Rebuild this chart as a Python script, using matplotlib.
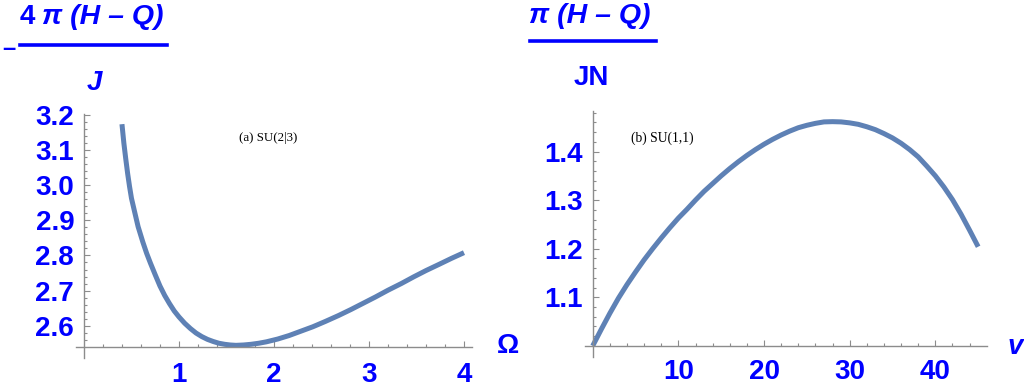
import numpy as np
import matplotlib
matplotlib.use('Agg')
import matplotlib.pyplot as plt
from matplotlib.lines import Line2D
from matplotlib.ticker import FixedLocator

# panel (a): SU(2|3), J vs Omega
omega = [0.40, 0.42, 0.44, 0.46, 0.48, 0.50, 0.53, 0.57, 0.62, 0.66, 0.70,
         0.75, 0.80, 0.85, 0.90, 0.95, 1.00, 1.06, 1.12, 1.18, 1.24, 1.30,
         1.36, 1.42, 1.48, 1.54, 1.60, 1.68, 1.76, 1.84, 1.92, 2.04, 2.16,
         2.28, 2.41, 2.54, 2.68, 2.81, 2.94, 3.07, 3.20, 3.34, 3.47, 3.60,
         3.74, 3.87, 4.00]
J_a = [3.174, 3.120, 3.075, 3.033, 2.996, 2.963, 2.928, 2.882, 2.838, 2.806,
       2.778, 2.745, 2.713, 2.686, 2.663, 2.642, 2.625, 2.607, 2.592, 2.579,
       2.569, 2.561, 2.555, 2.550, 2.547, 2.545, 2.544, 2.545, 2.547, 2.550,
       2.554, 2.562, 2.572, 2.584, 2.597, 2.612, 2.629, 2.646, 2.664, 2.682,
       2.701, 2.720, 2.739, 2.757, 2.775, 2.792, 2.808]

# panel (b): SU(1,1), JN vs v
v = [0, 1, 2, 3, 4, 5, 6, 7, 8, 9, 10, 11, 12, 13, 14, 15, 16, 17, 18, 19,
     20, 21, 22, 23, 24, 25, 26, 27, 28, 29, 30, 31, 32, 33, 34, 35, 36, 37,
     38, 39, 40, 41, 42, 43, 44, 45]
JN_b = [1.000, 1.034, 1.067, 1.098, 1.126, 1.152, 1.177, 1.200, 1.222, 1.243,
        1.263, 1.281, 1.300, 1.318, 1.334, 1.350, 1.365, 1.379, 1.392, 1.404,
        1.415, 1.425, 1.434, 1.442, 1.449, 1.454, 1.458, 1.461, 1.4615, 1.461,
        1.459, 1.456, 1.451, 1.445, 1.437, 1.428, 1.417, 1.404, 1.389, 1.370,
        1.350, 1.327, 1.301, 1.271, 1.238, 1.204]

a_xticks = [1, 2, 3, 4]
a_yticks = [2.6, 2.7, 2.8, 2.9, 3.0, 3.1, 3.2]
a_ylabels = ['2.6', '2.7', '2.8', '2.9', '3.0', '3.1', '3.2']
b_xticks = [10, 20, 30, 40]
b_yticks = [1.1, 1.2, 1.3, 1.4]

blue = '#0000ff'
line_c = '#5e81b5'
axis_c = '#8c8c8c'
font = 'Liberation Sans'
tick_fs = 20

fig = plt.figure(figsize=(10.24, 3.9), dpi=100)
ax1 = fig.add_axes([0.0742, 0.0821, 0.3867, 0.6256])
ax2 = fig.add_axes([0.5713, 0.0846, 0.3923, 0.6315])


def style(ax, x0, y0, xlim, ylim, xminor, yminor, xpad):
    ax.set_xlim(*xlim)
    ax.set_ylim(*ylim)
    ax.spines['top'].set_visible(False)
    ax.spines['right'].set_visible(False)
    ax.spines['left'].set_position(('data', x0))
    ax.spines['bottom'].set_position(('data', y0))
    for s in ('left', 'bottom'):
        ax.spines[s].set_color(axis_c)
        ax.spines[s].set_linewidth(1.0)
    ax.xaxis.set_minor_locator(FixedLocator(xminor))
    ax.yaxis.set_minor_locator(FixedLocator(yminor))
    ax.tick_params(which='both', direction='in', color=axis_c, width=0.8)
    ax.tick_params(which='major', length=4.5)
    ax.tick_params(which='minor', length=2.5)
    ax.tick_params(axis='x', which='major', pad=xpad)
    ax.tick_params(axis='y', which='major', pad=7)
    for lab in ax.get_xticklabels() + ax.get_yticklabels():
        lab.set_fontfamily(font)
        lab.set_fontweight('bold')
        lab.set_fontsize(tick_fs)
        lab.set_color(blue)
    ax.patch.set_visible(False)


ax1.plot(omega, J_a, color=line_c, lw=3.6, solid_capstyle='butt')
ax1.set_xticks(a_xticks)
ax1.set_yticks(a_yticks, a_ylabels)
style(ax1, 0, 2.54, (-0.084, 4.084), (2.508, 3.203),
      np.arange(0.2, 4.01, 0.2), np.arange(2.56, 3.201, 0.02), 11)

ax2.plot(v, JN_b, color=line_c, lw=3.6, solid_capstyle='butt')
ax2.set_xticks(b_xticks)
ax2.set_yticks(b_yticks)
style(ax2, 0, 1.0, (-0.9, 46.0), (0.977, 1.484),
      np.arange(2, 46, 2), np.arange(1.02, 1.481, 0.02), 9.5)

ax1.text(1.63, 3.135, '(a) SU(2|3)', family='Liberation Serif', fontsize=9.3,
         ha='left', va='center')
ax2.text(4.5, 1.428, '(b) SU(1,1)', family='Liberation Serif', fontsize=9.8,
         ha='left', va='center')

W, H = 1024.0, 390.0


def ftext(x, y, s, **kw):
    fig.text(x / W, 1 - y / H, s, color=blue, family=font, fontweight='bold',
             **kw)


# left y label as a fraction
ftext(2, 49, '\u2013', fontsize=17, ha='left', va='center')
ftext(20, 17, '4', fontsize=20, ha='left', va='center')
ftext(42, 17, '\u03c0 (H \u2013 Q)', fontsize=20.5, ha='left', va='center',
      style='italic')
fig.add_artist(Line2D([20 / W, 167 / W], [1 - 45 / H, 1 - 45 / H],
                      color=blue, lw=2.6))
ftext(94, 83, 'J', fontsize=20, ha='center', va='center', style='italic')
ftext(508, 346, '\u03a9', fontsize=20, ha='center', va='center')

# right y label
ftext(529, 16, '\u03c0 (H \u2013 Q)', fontsize=20.5, ha='left', va='center',
      style='italic')
fig.add_artist(Line2D([530 / W, 656 / W], [1 - 41 / H, 1 - 41 / H],
                      color=blue, lw=2.6))
ftext(591, 78, 'JN', fontsize=20, ha='center', va='center')
ftext(1008, 347, 'v', fontsize=20, ha='left', va='center', style='italic')

fig.savefig('out.png', dpi=100)
